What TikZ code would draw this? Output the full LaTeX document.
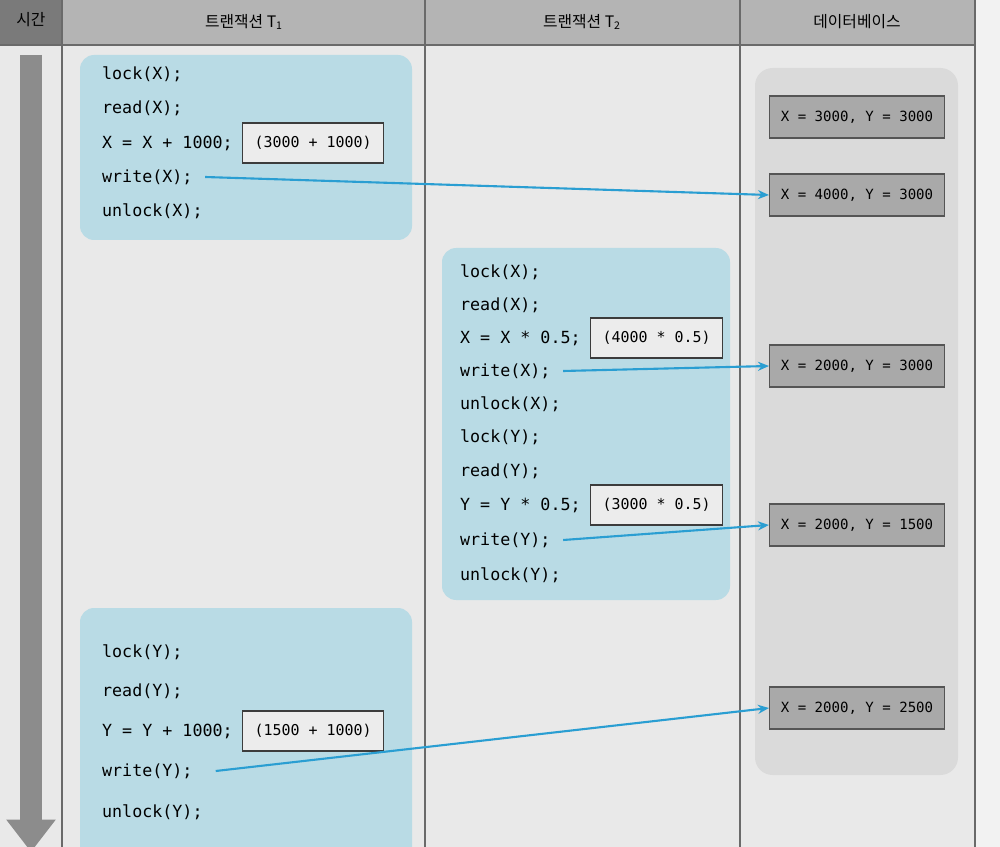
\documentclass[tikz,border=0pt]{standalone}
\usepackage{fontspec}
\setmonofont{DejaVu Sans Mono}
\newfontfamily\kor{Noto Sans CJK KR}
\usetikzlibrary{positioning,arrows.meta}
\definecolor{pagebg}{HTML}{F2F2F2}
\definecolor{bodybg}{HTML}{E9E9E9}
\definecolor{headbg}{HTML}{B4B4B4}
\definecolor{timehead}{HTML}{7A7A7A}
\definecolor{timebar}{HTML}{8C8C8C}
\definecolor{codebg}{HTML}{B9DBE5}
\definecolor{dbbg}{HTML}{DADADA}
\definecolor{dbfill}{HTML}{A9A9A9}
\definecolor{dbline}{HTML}{555555}
\definecolor{calcfill}{HTML}{ECECEC}
\definecolor{boxline}{HTML}{3C3C3C}
\definecolor{arrowc}{HTML}{2A9ED2}
\definecolor{tabline}{HTML}{6A6A6A}

\begin{document}
\begin{tikzpicture}[x=0.02cm, y=-0.02cm, node distance=4pt, font=\small,
  code/.style={anchor=west, inner sep=1pt, font=\ttfamily\fontsize{9.5}{11}\selectfont},
  calc/.style={draw=boxline, fill=calcfill, line width=0.6pt, inner xsep=7pt, minimum height=0.8cm, font=\ttfamily\fontsize{8.5}{10}\selectfont},
  db/.style={draw=dbline, fill=dbfill, line width=0.6pt, minimum width=3.5cm, minimum height=0.84cm, font=\ttfamily\fontsize{8}{10}\selectfont},
  head/.style={font=\kor\fontsize{9}{11}\selectfont},
  flow/.style={->, draw=arrowc, line width=1.2pt},
  >={Stealth[length=2.2mm, width=1.8mm]}]
\useasboundingbox (0,0) rectangle (1000,847);
\clip (0,0) rectangle (1000,847);
\fill[pagebg] (0,0) rectangle (1000,847);
\fill[bodybg] (0,45) rectangle (975,847);
\fill[headbg] (62,0) rectangle (975,45);
\fill[timehead] (0,0) rectangle (62,45);
\draw[tabline, line width=0.6pt] (0,45) -- (975,45);
\foreach \cx in {62,425,740,975}
  \draw[tabline, line width=0.6pt] (\cx,0) -- (\cx,847);
\node[head] (h0) at (31,20) {시간};
\node[head] (h1) at (244,22) {트랜잭션 T\textsubscript{1}};
\node[head] (h2) at (582,22) {트랜잭션 T\textsubscript{2}};
\node[head] (h3) at (857,22) {데이터베이스};
\draw[timebar, line width=0.46cm, -{Triangle[width=0.95cm, length=0.65cm]}] (31,55) -- (31,852);

\fill[codebg, rounded corners=8pt] (80,55) rectangle (412,240);
\fill[codebg, rounded corners=8pt] (442,248) rectangle (730,600);
\fill[codebg, rounded corners=8pt] (80,608) rectangle (412,880);
\fill[dbbg, rounded corners=10pt] (755,68) rectangle (958,775);

\node[code] (a1) at (100,74) {lock(X);};
\node[code] (a2) at (100,108) {read(X);};
\node[code] (a3) at (100,143) {X = X + 1000;};
\node[calc, right=of a3] (ca) {(3000 + 1000)};
\node[code] (a4) at (100,177) {write(X);};
\node[code] (a5) at (100,211) {unlock(X);};

\node[code] (b1) at (458,272) {lock(X);};
\node[code] (b2) at (458,305) {read(X);};
\node[code] (b3) at (458,338) {X = X * 0.5;};
\node[calc, right=of b3] (cb) {(4000 * 0.5)};
\node[code] (b4) at (458,371) {write(X);};
\node[code] (b5) at (458,404) {unlock(X);};
\node[code] (b6) at (458,437) {lock(Y);};
\node[code] (b7) at (458,471) {read(Y);};
\node[code] (b8) at (458,505) {Y = Y * 0.5;};
\node[calc, right=of b8] (cc) {(3000 * 0.5)};
\node[code] (b9) at (458,540) {write(Y);};
\node[code] (b10) at (458,575) {unlock(Y);};

\node[code] (e1) at (100,652) {lock(Y);};
\node[code] (e2) at (100,691) {read(Y);};
\node[code] (e3) at (100,731) {Y = Y + 1000;};
\node[calc, right=of e3] (cd) {(1500 + 1000)};
\node[code] (e4) at (100,771) {write(Y);};
\node[code] (e5) at (100,812) {unlock(Y);};

\node[db] (d1) at (857,117) {X = 3000, Y = 3000};
\node[db] (d2) at (857,195) {X = 4000, Y = 3000};
\node[db] (d3) at (857,366) {X = 2000, Y = 3000};
\node[db] (d4) at (857,525) {X = 2000, Y = 1500};
\node[db] (d5) at (857,708) {X = 2000, Y = 2500};

\draw[flow] ([xshift=6pt]a4.east) -- (d2.west);
\draw[flow] ([xshift=6pt]b4.east) -- (d3.west);
\draw[flow] ([xshift=6pt]b9.east) -- (d4.west);
\draw[flow] ([xshift=12pt]e4.east) -- (d5.west);
\end{tikzpicture}
\end{document}
